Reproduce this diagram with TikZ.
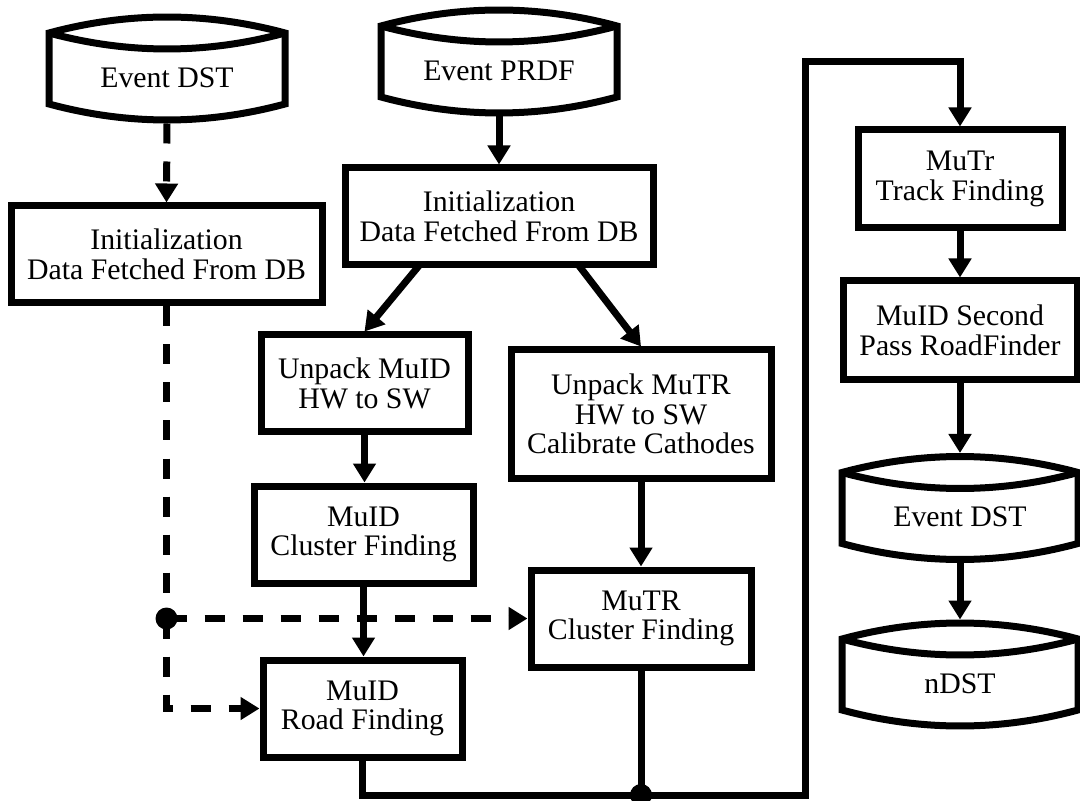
\documentclass[tikz,border=0pt]{standalone}
\usepackage{fontspec}
\setmainfont{Liberation Serif}
\usetikzlibrary{arrows.meta}
\begin{document}
\begin{tikzpicture}[x=0.5pt,y=-0.5pt,
  line width=3.5pt, line join=miter,
  txt/.style={font=\fontsize{14.9pt}{14.8pt}\selectfont, align=center, inner sep=0pt},
  stepbox/.style={txt, draw, line width=3.5pt},
  conn/.style={-{Triangle[length=9.5pt,width=11pt]}},
  dsh/.style={dash pattern=on 10pt off 9pt},
  dot/.style={circle, fill, draw=none, inner sep=0pt, minimum size=11pt},
  pics/storage/.style={code={
     % outline: left side, upper top arc, right side, bottom arc
     \draw (-118,35.5) -- (-118,-35.5)
           .. controls (-39.3,-56.8) and (39.3,-56.8) .. (118,-35.5)
           -- (118,35.5)
           .. controls (39.3,56.8) and (-39.3,56.8) .. (-118,35.5) -- cycle;
     % lower edge of the top lens
     \draw (-118,-35.5) .. controls (-39.3,-14.2) and (39.3,-14.2) .. (118,-35.5);
     \node[txt] (-t) at (0,9) {#1};
     \coordinate (-in) at (0,-55);
     \coordinate (-out) at (0,55);
  }}
]
\useasboundingbox (0,0) rectangle (1080,801);
\clip (0,0) rectangle (1080,801);

% storage shapes
\pic (evDSTL) at (167,68.5) {storage={Event DST}};
\pic (evPRDF) at (499,61.5) {storage={Event PRDF}};
\pic (evDSTR) at (960,508) {storage={Event DST}};
\pic (nDST) at (960,674.5) {storage={nDST}};

% processing steps
\node[stepbox, minimum width=155.5pt, minimum height=48.5pt] (initL) at (166.5,254.5) {Initialization\\Data Fetched From DB};
\node[stepbox, minimum width=154pt, minimum height=48.5pt] (initM) at (499,216.5) {Initialization\\Data Fetched From DB};
\node[stepbox, minimum width=103.5pt, minimum height=48.5pt] (unpackID) at (364.5,383.5) {Unpack MuID\\HW to SW};
\node[stepbox, minimum width=130pt, minimum height=64pt] (unpackTR) at (641,414) {Unpack MuTR\\HW to SW\\Calibrate Cathodes};
\node[stepbox, minimum width=109.5pt, minimum height=48.5pt] (clusID) at (363.5,534.5) {MuID\\Cluster Finding};
\node[stepbox, minimum width=110pt, minimum height=48.5pt] (clusTR) at (641,618.5) {MuTR\\Cluster Finding};
\node[stepbox, minimum width=99.5pt, minimum height=48.5pt] (roadID) at (362.5,708.5) {MuID\\Road Finding};
\node[stepbox, minimum width=102pt, minimum height=49pt] (trackTr) at (960,179) {MuTr\\Track Finding};
\node[stepbox, minimum width=117pt, minimum height=49.5pt] (secondPass) at (960,330.5) {MuID Second\\Pass RoadFinder};

% routing points
\coordinate (j) at (641,795);
\coordinate (loopB) at (805,795);
\coordinate (loopT) at (805,62);
\coordinate (dotL) at (166.5,618.5);

% solid flow
\draw[conn] (evPRDF-out) -- (initM.north);
\draw[conn] ([xshift=-39.5pt,yshift=2pt]initM.south) -- (unpackID.north);
\draw[conn] ([xshift=39.5pt,yshift=2pt]initM.south) -- (unpackTR.north);
\draw[conn] (unpackID.south) -- (unpackID.south |- clusID.north);
\draw[conn] (unpackTR.south) -- (clusTR.north);
\draw[conn] (clusID.south) -- (clusID.south |- roadID.north);
\draw[conn] (roadID.south) -- (roadID.south |- j) -- (loopB) -- (loopT) -- (loopT -| trackTr.north) -- (trackTr.north);
\draw (clusTR.south) -- (j);
\node[dot] (jdot) at (j) {};
\draw[conn] (trackTr.south) -- (secondPass.north);
\draw[conn] (secondPass.south) -- (evDSTR-in);
\draw[conn] (evDSTR-out) -- (nDST-in);

% dashed flow from the DST branch
\draw[conn,dsh] (evDSTL-out) -- (initL.north);
\draw[dsh] (initL.south) -- (dotL);
\draw[conn,dsh] (dotL) -- (dotL |- roadID.west) -- (roadID.west);
\draw[conn,dsh] (dotL) -- (clusTR.west);
\node[dot] (dotLn) at (dotL) {};
\end{tikzpicture}
\end{document}
